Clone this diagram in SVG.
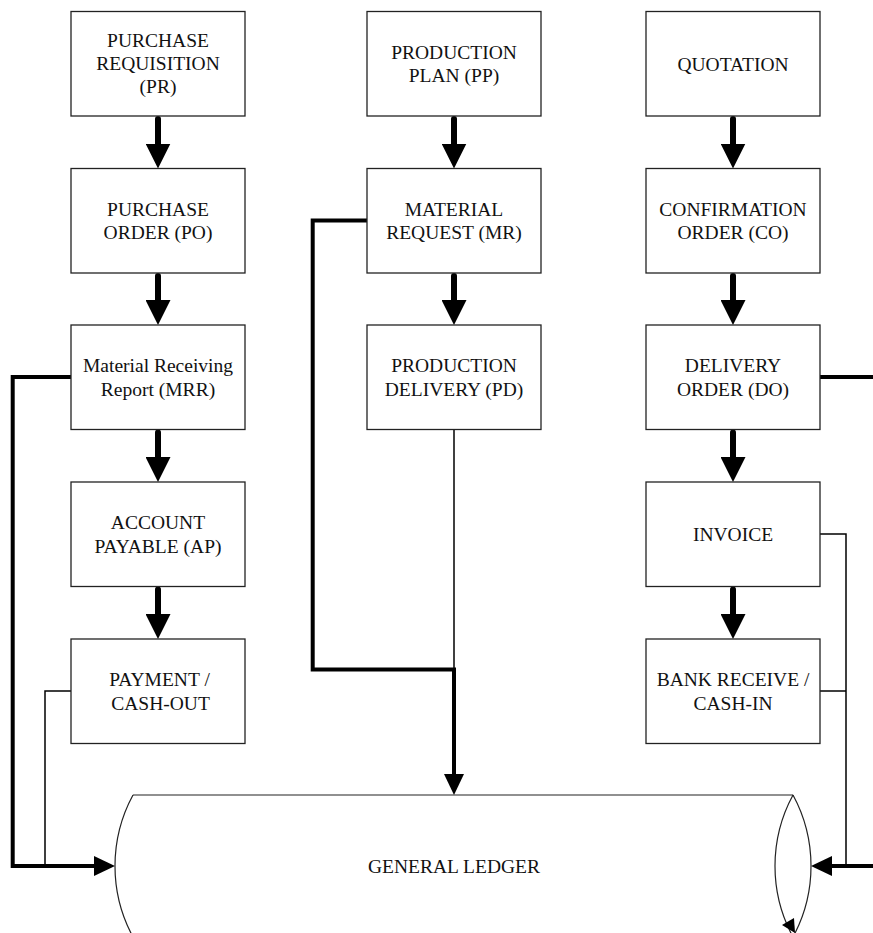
<svg xmlns="http://www.w3.org/2000/svg" width="873" height="933" viewBox="0 0 873 933">
<style>
.box{fill:#fff;stroke:#222;stroke-width:1.3}
.t{font-family:"Liberation Serif","Times New Roman",serif;font-size:19.5px;fill:#111;text-anchor:middle}
.flow{fill:none;stroke:#000;stroke-width:6;stroke-linecap:round}
.thick{fill:none;stroke:#000;stroke-width:4;stroke-linejoin:miter;stroke-linecap:butt}
.thin{fill:none;stroke:#000;stroke-width:1.5}
.cyl{fill:none;stroke:#222;stroke-width:1.2}
</style>
<defs>
<marker id="big" markerUnits="userSpaceOnUse" viewBox="0 0 25 25" markerWidth="25" markerHeight="25" refX="2" refY="12.5" orient="auto"><path d="M0,0 L25,12.5 L0,25 Z" fill="#000"/></marker>
<marker id="med" markerUnits="userSpaceOnUse" viewBox="0 0 21 20" markerWidth="21" markerHeight="20" refX="2" refY="10" orient="auto"><path d="M0,0 L21,10 L0,20 Z" fill="#000"/></marker>
</defs>

<g id="connectors">
<path class="flow" marker-end="url(#big)" d="M158,119 V145.5"/>
<path class="flow" marker-end="url(#big)" d="M158,276 V302"/>
<path class="flow" marker-end="url(#big)" d="M158,432.5 V459"/>
<path class="flow" marker-end="url(#big)" d="M158,589.5 V616"/>
<path class="flow" marker-end="url(#big)" d="M454,119 V145.5"/>
<path class="flow" marker-end="url(#big)" d="M454,276 V302"/>
<path class="flow" marker-end="url(#big)" d="M733,119 V145.5"/>
<path class="flow" marker-end="url(#big)" d="M733,276 V302"/>
<path class="flow" marker-end="url(#big)" d="M733,432.5 V459"/>
<path class="flow" marker-end="url(#big)" d="M733,589.5 V616"/>
<path class="thick" marker-end="url(#med)" d="M71,377 H12.7 V866 H96"/>
<path class="thin" d="M71,691 H45 V866"/>
<path class="thick" marker-end="url(#med)" d="M367,220.5 H312.7 V669.5 H454 V776"/>
<path class="thin" d="M454,429.5 V669.5"/>
<path class="thick" d="M820,377 H873"/>
<path class="thick" marker-end="url(#med)" d="M873,866 H830"/>
<path class="thin" d="M820,534 H846 V866"/>
<path class="thin" d="M820,691 H846"/>
</g>

<g id="pr"><rect class="box" x="71" y="11.5" width="174" height="104.5"/>
<text class="t" x="158" y="46.7">PURCHASE</text><text class="t" x="158" y="70">REQUISITION</text><text class="t" x="158" y="93.3">(PR)</text></g>
<g id="po"><rect class="box" x="71" y="168.5" width="174" height="104.5"/>
<text class="t" x="158" y="215.5">PURCHASE</text><text class="t" x="158" y="239">ORDER (PO)</text></g>
<g id="mrr"><rect class="box" x="71" y="325" width="174" height="104.5"/>
<text class="t" x="158" y="372.2">Material Receiving</text><text class="t" x="158" y="395.6">Report (MRR)</text></g>
<g id="ap"><rect class="box" x="71" y="482" width="174" height="104.5"/>
<text class="t" x="158" y="529.2">ACCOUNT</text><text class="t" x="158" y="552.6">PAYABLE (AP)</text></g>
<g id="payment"><rect class="box" x="71" y="639" width="174" height="104.5"/>
<text class="t" x="159.5" y="686.2">PAYMENT /</text><text class="t" x="160.5" y="709.6">CASH-OUT</text></g>

<g id="pp"><rect class="box" x="367" y="11.5" width="174" height="104.5"/>
<text class="t" x="454" y="58.5">PRODUCTION</text><text class="t" x="454" y="82">PLAN (PP)</text></g>
<g id="mr"><rect class="box" x="367" y="168.5" width="174" height="104.5"/>
<text class="t" x="454" y="215.5">MATERIAL</text><text class="t" x="454" y="239">REQUEST (MR)</text></g>
<g id="pd"><rect class="box" x="367" y="325" width="174" height="104.5"/>
<text class="t" x="454" y="372.2">PRODUCTION</text><text class="t" x="454" y="395.6">DELIVERY (PD)</text></g>

<g id="quotation"><rect class="box" x="646" y="11.5" width="174" height="104.5"/>
<text class="t" x="733" y="70.5">QUOTATION</text></g>
<g id="co"><rect class="box" x="646" y="168.5" width="174" height="104.5"/>
<text class="t" x="733" y="215.5">CONFIRMATION</text><text class="t" x="733" y="239">ORDER (CO)</text></g>
<g id="do"><rect class="box" x="646" y="325" width="174" height="104.5"/>
<text class="t" x="733" y="372.2">DELIVERY</text><text class="t" x="733" y="395.6">ORDER (DO)</text></g>
<g id="invoice"><rect class="box" x="646" y="482" width="174" height="104.5"/>
<text class="t" x="733" y="540.7">INVOICE</text></g>
<g id="bank"><rect class="box" x="646" y="639" width="174" height="104.5"/>
<text class="t" x="733" y="686.2">BANK RECEIVE /</text><text class="t" x="733" y="709.6">CASH-IN</text></g>

<g id="general-ledger">
<path class="cyl" d="M133,795 H793 M133,937 H793 M133,795 A149,149 0 0 0 133,937"/>
<path class="cyl" d="M793,795 A149,149 0 0 0 793,937 A149,149 0 0 0 793,795"/>
<polygon points="782,925 794,918 795,933" fill="#000"/>
<text class="t" x="454" y="872.7">GENERAL LEDGER</text>
</g>
</svg>
